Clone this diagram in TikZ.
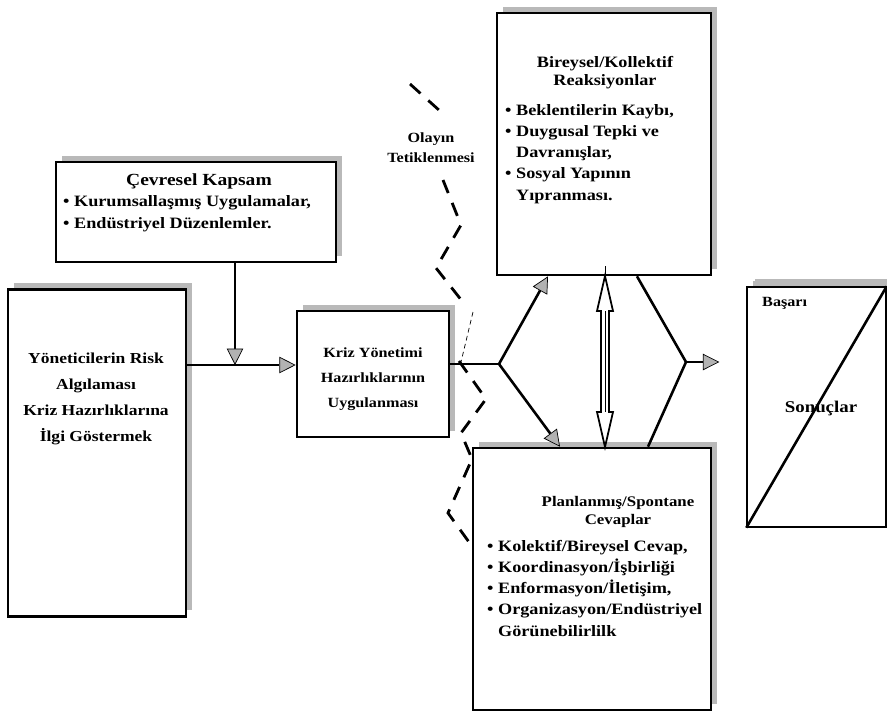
\documentclass[tikz,border=0pt]{standalone}
\usepackage{fontspec}
\setmainfont{Liberation Serif}[FakeStretch=1.15]
\usetikzlibrary{arrows.meta,shadows}

\begin{document}
\begin{tikzpicture}[x=0.03cm, y=-0.03cm,
  box/.style={draw, line width=2.2pt, fill=white, inner sep=0pt,
    drop shadow={shadow xshift=5.5pt, shadow yshift=5.5pt, fill=gray!55, opacity=1}},
  body/.style={font=\bfseries\fontsize{13.5}{18}\selectfont, align=left, inner sep=0pt},
  head/.style={font=\bfseries\fontsize{13.5}{15}\selectfont, align=center, inner sep=0pt},
  link/.style={line width=2.2pt},
  tip/.style={-{Triangle[length=14pt, width=14pt, fill=gray!60, line width=0.6pt]}},
  trig/.style={line width=2.4pt, dash pattern=on 12pt off 9pt}]
  \clip (0,0) rectangle (887,717);
  \fill[white] (0,0) rectangle (887,717);

  % boxes
  \node[box, minimum width=8.4cm, minimum height=3.0cm] (env) at (196,212) {};
  \node[box, minimum width=5.34cm, minimum height=9.81cm] (risk) at (97,453) {};
  \node[box, minimum width=4.56cm, minimum height=3.78cm] (kriz) at (373,374) {};
  \node[box, minimum width=6.42cm, minimum height=7.86cm] (react) at (604,144) {};
  \node[box, minimum width=7.14cm, minimum height=7.86cm] (plan) at (592,579) {};
  \node[box, line width=1.2pt, minimum width=4.17cm, minimum height=7.2cm,
    drop shadow={shadow xshift=6.5pt, shadow yshift=6.5pt, fill=gray!55, opacity=1}]
    (result) at (816.5,407) {};

  % texts (base = last line)
  \node[head, font=\bfseries\fontsize{14.5}{15}\selectfont, anchor=base] (env-t) at (199,185) {Çevresel Kapsam};
  \node[body, anchor=base west] (env-b) at (63,228) {• Kurumsallaşmış Uygulamalar,\\• Endüstriyel Düzenlemler.};
  \node[body, align=center, font=\bfseries\fontsize{13}{22}\selectfont, anchor=base] (risk-t) at (96,441)
    {Yöneticilerin Risk\\Algılaması\\Kriz Hazırlıklarına\\İlgi Göstermek};
  \node[body, align=center, font=\bfseries\fontsize{12}{21}\selectfont, anchor=base] (kriz-t) at (373,407)
    {Kriz Yönetimi\\Hazırlıklarının\\Uygulanması};
  \node[head, anchor=base] (react-t) at (605,85) {Bireysel/Kollektif\\Reaksiyonlar};
  \node[body, anchor=base west] (react-b) at (505,200)
    {• Beklentilerin Kaybı,\\• Duygusal Tepki ve\\\phantom{• }Davranışlar,\\• Sosyal Yapının\\\phantom{• }Yıpranması.};
  \node[head, font=\bfseries\fontsize{12.5}{15}\selectfont, anchor=base] (plan-t) at (618,524) {Planlanmış/Spontane\\Cevaplar};
  \node[body, anchor=base west] (plan-b) at (487,636)
    {• Kolektif/Bireysel Cevap,\\• Koordinasyon/İşbirliği\\• Enformasyon/İletişim,\\• Organizasyon/Endüstriyel\\\phantom{• }Görünebilirlilk};
  \node[body, font=\bfseries\fontsize{12}{14}\selectfont, anchor=base west] (res-t) at (762,306) {Başarı};
  \node[body, font=\bfseries\fontsize{14}{16}\selectfont, anchor=base] (res-b) at (821,412) {Sonuçlar};
  \node[head, font=\bfseries\fontsize{12}{17}\selectfont, anchor=base] (event) at (431,162) {Olayın\\Tetiklenmesi};
  \draw[line width=2.2pt] (result.south west) -- (result.north east);

  % connectors
  \coordinate (jin) at (235,365);
  \coordinate (jL) at (499,364);
  \coordinate (jR) at (686,362);
  \draw[link, tip] (env.south -| jin) -- (jin);
  \draw[link, tip] (risk.east |- jin) -- (kriz.west |- jin);
  \draw[link] (kriz.east |- jL) -- (jL);
  \draw[link, tip] (jL) -- (548,0 |- react.south);
  \draw[link, tip] (jL) -- (560,0 |- plan.north);
  \draw[link] (637,0 |- react.south) -- (jR);
  \draw[link] (648,0 |- plan.north) -- (jR);
  \draw[link, tip, shorten >=23pt] (jR) -- (result.west |- jR);

  % double arrow between reactions and responses
  \draw[line width=0.7pt] (605,0 |- react.south) ++(0,-10) -- (605,0 |- plan.north) ++(0,12);
  \draw[line width=1.5pt, fill=white] (605,276) -- (613,311) -- (609,311) -- (609,412) -- (613,412)
    -- (605,447) -- (597,412) -- (601,412) -- (601,311) -- (597,311) -- cycle;
  \draw[line width=0.7pt] (605,311) -- (605,412);

  % event trigger line
  \draw[trig] (410,84) -- (440,111);
  \draw[trig] (443,180) -- (461,225) -- (436,268) -- (466,306);
  \draw[line width=0.6pt, dash pattern=on 4pt off 3pt] (473,312) -- (461,362);
  \draw[trig] (459,361) -- (486,399) -- (461,433) -- (472,459) -- (448,513) -- (474,549);
\end{tikzpicture}
\end{document}
